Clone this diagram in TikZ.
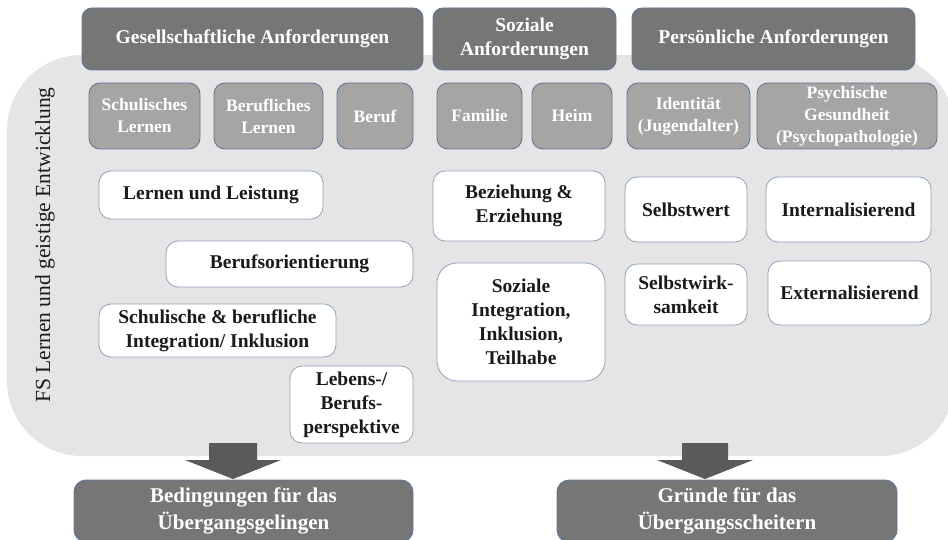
\documentclass[tikz,border=0pt]{standalone}
\usepackage{fontspec}
\setmainfont{Liberation Serif}
\definecolor{darkbox}{HTML}{767676}
\definecolor{midbox}{HTML}{A7A4A4}
\definecolor{fieldgray}{HTML}{E5E5E5}
\definecolor{edgeblue}{HTML}{5F7899}
\definecolor{lightedge}{HTML}{8FA2BE}
\definecolor{arrowgray}{HTML}{5A5A5A}
\definecolor{inktext}{HTML}{1A1A1A}
\begin{document}
\begin{tikzpicture}[x=1pt,y=-1pt,
  every node/.style={inner sep=0pt, align=center},
  headbox/.style={draw=edgeblue, line width=0.9pt, fill=darkbox, rounded corners=10pt,
    text=white, font=\fontsize{19.5}{24}\selectfont\bfseries},
  areabox/.style={draw=edgeblue, line width=0.9pt, fill=midbox, rounded corners=11pt,
    text=white, font=\fontsize{17.5}{22}\selectfont\bfseries},
  itembox/.style={draw=lightedge, line width=0.8pt, fill=white, rounded corners=12pt,
    text=inktext, font=\fontsize{19.5}{24}\selectfont\bfseries},
  resultbox/.style={draw=edgeblue, line width=0.9pt, fill=darkbox, rounded corners=12pt,
    text=white, font=\fontsize{21}{27}\selectfont\bfseries},
  field/.style={fill=fieldgray, rounded corners=75pt},
  blockarrow/.style={fill=arrowgray}
]
\useasboundingbox (0,0) rectangle (948,540);

% shared background field for the school-related focus
\node[field, minimum width=948pt, minimum height=401pt] (field) at (481,255.5) {};
\node[rotate=90, font=\fontsize{21.5}{24}\selectfont, text=inktext] (fs) at (45,245)
  {FS Lernen und geistige Entwicklung};

% column headings
\node[headbox, minimum width=341pt, minimum height=62pt] (ges) at (252.5,39)
  {Gesellschaftliche Anforderungen};
\node[headbox, minimum width=183pt, minimum height=62pt] (soz) at (524.5,39)
  {Soziale\\Anforderungen};
\node[headbox, minimum width=283pt, minimum height=62pt] (pers) at (773.5,39)
  {Persönliche Anforderungen};

% areas
\node[areabox, minimum width=111pt, minimum height=66pt] (schul) at (144.5,116) {Schulisches\\Lernen};
\node[areabox, minimum width=109pt, minimum height=66pt] (berl) at (268.5,116) {Berufliches\\Lernen};
\node[areabox, minimum width=76pt, minimum height=66pt] (beruf) at (375,116) {Beruf};
\node[areabox, minimum width=85pt, minimum height=66pt] (fam) at (479.5,116) {Familie};
\node[areabox, minimum width=80pt, minimum height=66pt] (heim) at (572,116) {Heim};
\node[areabox, minimum width=123pt, minimum height=66pt] (ident) at (688.5,116) {Identität\\(Jugendalter)};
\node[areabox, minimum width=180pt, minimum height=66pt] (psych) at (847,116) {Psychische\\Gesundheit\\(Psychopathologie)};

% topics
\node[itembox, minimum width=224pt, minimum height=48pt] (lern) at (211,195) {Lernen und Leistung};
\node[itembox, minimum width=247pt, minimum height=46pt] (bo) at (289.5,264) {Berufsorientierung};
\node[itembox, minimum width=237pt, minimum height=53pt] (integ) at (217.5,330.5)
  {Schulische \& berufliche\\Integration/ Inklusion};
\node[itembox, minimum width=123pt, minimum height=77pt] (persp) at (351.5,404.5)
  {Lebens-/\\Berufs-\\perspektive};
\node[itembox, minimum width=172pt, minimum height=70pt] (bez) at (519,206)
  {Beziehung \&\\Erziehung};
\node[itembox, minimum width=168pt, minimum height=118pt, rounded corners=20pt] (sozint) at (521,322)
  {Soziale\\Integration,\\Inklusion,\\Teilhabe};
\node[itembox, minimum width=122pt, minimum height=65pt] (sw) at (686,209.5) {Selbstwert};
\node[itembox, minimum width=122pt, minimum height=61pt] (swk) at (686,294.5) {Selbstwirk-\\samkeit};
\node[itembox, minimum width=165pt, minimum height=65pt] (intern) at (848.5,209.5) {Internalisierend};
\node[itembox, minimum width=163pt, minimum height=64pt] (extern) at (849.5,293) {Externalisierend};

% outcomes
\node[resultbox, minimum width=339pt, minimum height=62pt] (bed) at (243.5,511)
  {Bedingungen für das\\Übergangsgelingen};
\node[resultbox, minimum width=340pt, minimum height=62pt] (gru) at (727,511)
  {Gründe für das\\Übergangsscheitern};

% block arrows from the field down to the outcomes
\fill[blockarrow] (209,443) -- (257,443) -- (257,460) -- (281,460)
  -- (233,479) -- (185,460) -- (209,460) -- cycle;
\fill[blockarrow] (682,443) -- (728,443) -- (728,460) -- (753,460)
  -- (705,479) -- (657,460) -- (682,460) -- cycle;
\end{tikzpicture}
\end{document}
